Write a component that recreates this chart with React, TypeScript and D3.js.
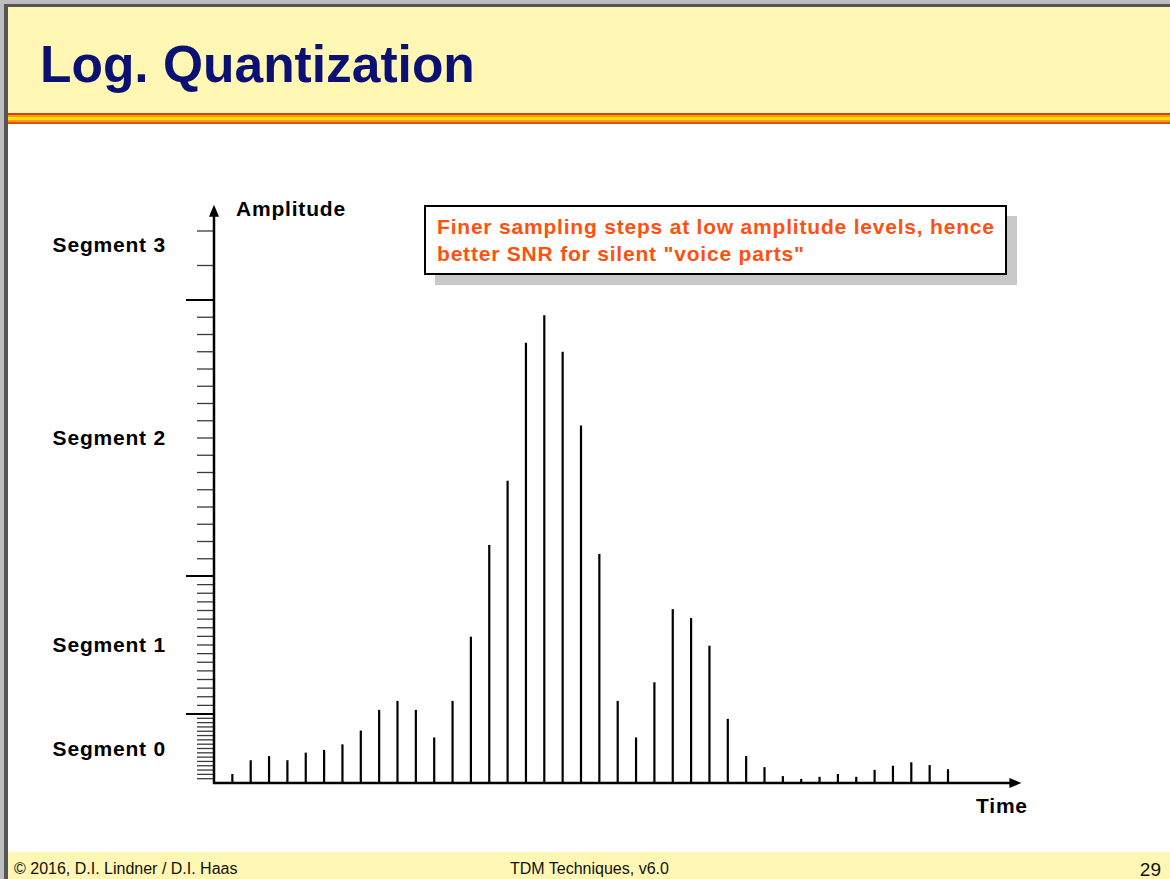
import React, { useEffect, useRef } from "react";
import * as d3 from "d3";

// sample amplitudes (linear units: segment edges at 1, 3, 7, 15)
const samples = [
  0.13, 0.33, 0.39, 0.33, 0.44, 0.48, 0.56, 0.76, 1.06, 1.19,
  1.06, 0.66, 1.19, 2.12, 3.45, 4.38, 6.38, 6.78, 6.25, 5.18,
  3.32, 1.19, 0.66, 1.46, 2.52, 2.39, 1.99, 0.93, 0.39, 0.23,
  0.1, 0.06, 0.09, 0.13, 0.09, 0.19, 0.25, 0.3, 0.26, 0.2,
];
const segmentEdges = [0, 1, 3, 7, 15];
const stepsPerSegment = 16;
const segmentLabels = ["Segment 0", "Segment 1", "Segment 2", "Segment 3"];
const labelLevels = [0.5, 2, 5, 7.8];
const noteLines = [
  "Finer sampling steps at low amplitude levels, hence",
  'better SNR for silent "voice parts"',
];

const W = 1170;
const H = 879;
const FONT = "'Liberation Sans', Arial, Helvetica, sans-serif";

const App = () => {
  const svgRef = useRef(null);

  useEffect(() => {
    const svg = d3.select(svgRef.current);
    svg.selectAll("*").remove();

    // slide frame
    svg.append("rect").attr("width", W).attr("height", H).attr("fill", "#fff");
    svg.append("rect").attr("x", 0).attr("y", 0).attr("width", W).attr("height", 4).attr("fill", "#bdbdbd");
    svg.append("rect").attr("x", 0).attr("y", 0).attr("width", 4).attr("height", H).attr("fill", "#bdbdbd");
    svg.append("rect").attr("x", 4).attr("y", 4).attr("width", W).attr("height", 3).attr("fill", "#555");
    svg.append("rect").attr("x", 4).attr("y", 4).attr("width", 4).attr("height", H).attr("fill", "#555");

    // header
    svg.append("rect").attr("x", 8).attr("y", 7).attr("width", W).attr("height", 106).attr("fill", "#fff7b3");
    const stripe = [
      ["#d8400c", 113, 2],
      ["#f79a1c", 115, 2],
      ["#ffdf00", 117, 3],
      ["#f79a1c", 120, 2],
      ["#e2500e", 122, 2],
    ];
    stripe.forEach(([c, y, h]) => {
      svg.append("rect").attr("x", 8).attr("y", y).attr("width", W).attr("height", h).attr("fill", c);
    });
    svg
      .append("text")
      .attr("x", 40)
      .attr("y", 82)
      .attr("font-family", FONT)
      .attr("font-weight", "bold")
      .attr("font-size", 51.5)
      .attr("fill", "#0b1172")
      .text("Log. Quantization");

    // footer
    svg.append("rect").attr("x", 8).attr("y", 852).attr("width", W).attr("height", 27).attr("fill", "#fff7b3");
    const foot = svg.append("g").attr("font-family", FONT).attr("fill", "#111");
    foot.append("text").attr("x", 14).attr("y", 874).attr("font-size", 16).text("© 2016, D.I. Lindner / D.I. Haas");
    foot.append("text").attr("x", 510).attr("y", 874).attr("font-size", 16).text("TDM Techniques, v6.0");
    foot.append("text").attr("x", 1161).attr("y", 876).attr("font-size", 19).attr("text-anchor", "end").text("29");

    // scales
    const x = d3.scaleLinear().domain([0, 44]).range([214, 1021.4]);
    const y = d3.scaleLinear().domain([0, 1]).range([783, 714]);
    const yTop = 8.38;

    const chart = svg.append("g");

    // quantization ticks
    const minorTicks = [];
    const majorTicks = [];
    for (let s = 0; s < segmentEdges.length - 1; s++) {
      const a = segmentEdges[s];
      const b = segmentEdges[s + 1];
      for (let k = 1; k <= stepsPerSegment; k++) {
        const v = a + ((b - a) * k) / stepsPerSegment;
        if (v > yTop - 0.2) break;
        if (k === stepsPerSegment) majorTicks.push(v);
        else minorTicks.push(v);
      }
    }
    chart
      .selectAll(".minor")
      .data(minorTicks)
      .enter()
      .append("line")
      .attr("class", "minor")
      .attr("x1", 197)
      .attr("x2", 214)
      .attr("y1", (d) => y(d))
      .attr("y2", (d) => y(d))
      .attr("stroke", "#3a3a3a")
      .attr("stroke-width", 1.3);
    chart
      .selectAll(".major")
      .data(majorTicks)
      .enter()
      .append("line")
      .attr("class", "major")
      .attr("x1", 186)
      .attr("x2", 214)
      .attr("y1", (d) => y(d))
      .attr("y2", (d) => y(d))
      .attr("stroke", "#000")
      .attr("stroke-width", 2);

    // sample stems
    chart
      .selectAll(".stem")
      .data(samples)
      .enter()
      .append("line")
      .attr("class", "stem")
      .attr("x1", (d, i) => x(i + 1))
      .attr("x2", (d, i) => x(i + 1))
      .attr("y1", y(0))
      .attr("y2", (d) => y(d))
      .attr("stroke", "#000")
      .attr("stroke-width", 2.2);

    // axes with arrows
    chart
      .append("line")
      .attr("x1", x(0))
      .attr("x2", x(0))
      .attr("y1", y(0) + 1)
      .attr("y2", y(yTop) + 8)
      .attr("stroke", "#000")
      .attr("stroke-width", 2.5);
    chart
      .append("path")
      .attr("d", `M${x(0)},${y(yTop)} l-5,12 l10,0 z`)
      .attr("fill", "#000");
    chart
      .append("line")
      .attr("x1", x(0) - 1)
      .attr("x2", x(44) - 8)
      .attr("y1", y(0))
      .attr("y2", y(0))
      .attr("stroke", "#000")
      .attr("stroke-width", 2.5);
    chart
      .append("path")
      .attr("d", `M${x(44)},${y(0)} l-12,-5 l0,10 z`)
      .attr("fill", "#000");

    const labels = chart
      .append("g")
      .attr("font-family", FONT)
      .attr("font-weight", "bold")
      .attr("font-size", 21)
      .attr("letter-spacing", 0.8)
      .attr("fill", "#000");
    labels
      .selectAll(".seg")
      .data(segmentLabels)
      .enter()
      .append("text")
      .attr("class", "seg")
      .attr("x", 166)
      .attr("y", (d, i) => y(labelLevels[i]))
      .attr("dy", "0.35em")
      .attr("text-anchor", "end")
      .text((d) => d);
    labels.append("text").attr("x", 236).attr("y", 216).text("Amplitude");
    labels.append("text").attr("x", 976).attr("y", 813).text("Time");

    // annotation box
    const note = svg.append("g");
    note.append("rect").attr("x", 435).attr("y", 216).attr("width", 582).attr("height", 69).attr("fill", "#c9c9c9");
    note
      .append("rect")
      .attr("x", 425)
      .attr("y", 206)
      .attr("width", 581)
      .attr("height", 68)
      .attr("fill", "#fff")
      .attr("stroke", "#000")
      .attr("stroke-width", 2);
    note
      .selectAll(".note")
      .data(noteLines)
      .enter()
      .append("text")
      .attr("class", "note")
      .attr("x", 437)
      .attr("y", (d, i) => 234 + i * 27)
      .attr("font-family", FONT)
      .attr("font-weight", "bold")
      .attr("font-size", 21)
      .attr("letter-spacing", 0.8)
      .attr("fill", "#ff5010")
      .text((d) => d);
  }, []);

  return (
    <svg
      ref={svgRef}
      width={W}
      height={H}
      style={{ position: "absolute", left: 0, top: 0, display: "block" }}
    />
  );
};

export default App;
